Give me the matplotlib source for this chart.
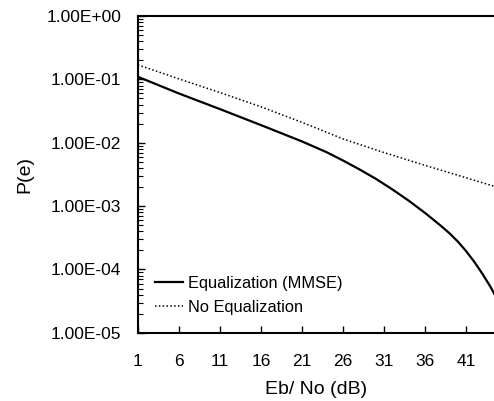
import numpy as np
import matplotlib
matplotlib.use("Agg")
import matplotlib.pyplot as plt
from matplotlib.ticker import LogLocator, NullFormatter

plt.rcParams['font.family'] = ['Liberation Sans', 'DejaVu Sans']

# values
ebno_mmse = [1, 6, 11, 16, 21, 24, 26, 28, 30, 32, 34, 36, 38, 39, 40, 41,
             42, 43, 44, 45]
pe_mmse = [1.1e-1, 6.0e-2, 3.4e-2, 1.9e-2, 1.05e-2, 7.1e-3, 5.25e-3, 3.8e-3,
           2.7e-3, 1.84e-3, 1.22e-3, 7.8e-4, 4.8e-4, 3.7e-4, 2.75e-4, 1.95e-4,
           1.32e-4, 8.5e-5, 5.25e-5, 3.0e-5]

ebno_noeq = [1, 6, 11, 16, 21, 26, 31, 36, 41, 45]
pe_noeq = [1.7e-1, 1.02e-1, 6.2e-2, 3.7e-2, 2.1e-2, 1.15e-2, 7.0e-3,
           4.4e-3, 2.8e-3, 1.95e-3]

xticks = [1, 6, 11, 16, 21, 26, 31, 36, 41]
yticks = [1e0, 1e-1, 1e-2, 1e-3, 1e-4, 1e-5]
ylabels = ["1.00E+00", "1.00E-01", "1.00E-02", "1.00E-03", "1.00E-04", "1.00E-05"]

fig = plt.figure(figsize=(4.94, 4.01), dpi=100)
ax = fig.add_axes([0.279, 0.170, 0.721, 0.790])

ax.plot(ebno_mmse, pe_mmse, color='black', lw=1.6, label='Equalization (MMSE)')
ax.plot(ebno_noeq, pe_noeq, color='black', lw=1.1, linestyle=(0, (1, 1.5)),
        label='No Equalization')

ax.set_yscale('log')
ax.set_xlim(1, 44.4)
ax.set_ylim(1e-5, 1e0)
ax.set_xticks(xticks)
ax.set_yticks(yticks)
ax.set_yticklabels(ylabels)
ax.yaxis.set_minor_locator(LogLocator(base=10, subs=np.arange(2, 10)))
ax.yaxis.set_minor_formatter(NullFormatter())

ax.tick_params(axis='both', which='major', direction='in', length=5, width=1,
               labelsize=12.5)
ax.tick_params(axis='y', which='minor', direction='in', length=3.5, width=0.8)
ax.tick_params(axis='y', pad=12)
ax.tick_params(axis='x', pad=15)

for s in ['left', 'bottom', 'top']:
    ax.spines[s].set_linewidth(1.5)
ax.spines['right'].set_visible(False)

ax.set_xlabel("Eb/ No (dB)", fontsize=14, labelpad=9)
ax.set_ylabel("P(e)", fontsize=14, labelpad=9)

ax.legend(loc='lower left', bbox_to_anchor=(0.025, 0.03), frameon=False,
          fontsize=11.8, borderpad=0, handlelength=1.7, handletextpad=0.3,
          labelspacing=0.55)

fig.savefig("out.png", dpi=100)
